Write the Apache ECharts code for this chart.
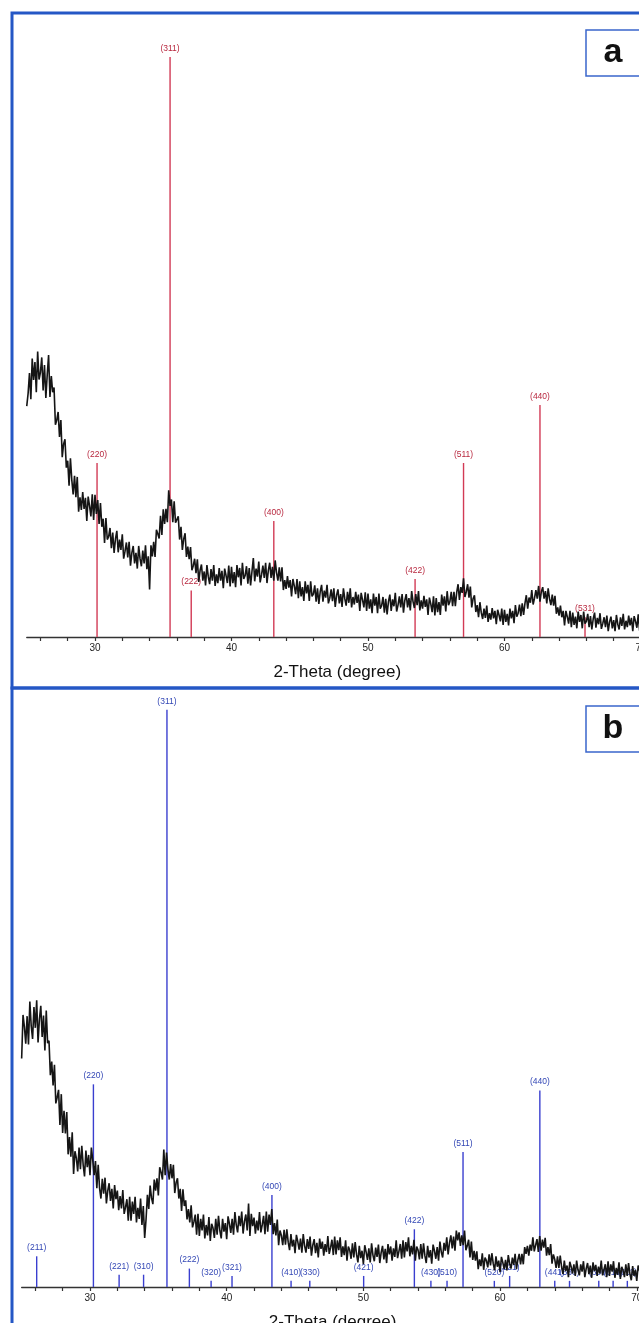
<!DOCTYPE html>
<html>
<head>
<meta charset="utf-8">
<script src="https://cdn.jsdelivr.net/npm/echarts@6/dist/echarts.min.js"></script>
<style>
  html, body { margin: 0; padding: 0; background: #fff; overflow: hidden; }
  #chart { width: 660px; height: 1340px; }
</style>
</head>
<body>
<div id="chart"></div>
<script>
// 2-theta sampling of the measured patterns
const thetaStart = 25.0;
const thetaStep = 0.1;

// panel a: measured intensity (a.u.), one value per 0.1 deg from 25.0
const countsA = [
  39.8, 42.0, 45.5, 41.0, 48.0, 44.3, 47.4, 42.2, 49.2, 44.4,
  45.6, 48.2, 42.5, 46.9, 41.2, 45.2, 48.6, 41.4, 45.0, 42.2,
  43.0, 36.6, 37.4, 38.8, 34.5, 37.4, 31.0, 33.3, 34.1, 29.2,
  30.4, 26.1, 30.8, 27.1, 24.6, 27.8, 24.1, 27.6, 21.6, 24.1,
  21.9, 25.0, 22.1, 24.0, 20.0, 24.2, 22.6, 20.8, 24.6, 20.2,
  24.5, 21.2, 23.6, 19.5, 23.1, 19.0, 20.4, 16.2, 20.5, 16.8,
  17.3, 18.8, 15.3, 18.0, 14.5, 16.9, 18.3, 14.6, 16.8, 15.0,
  17.7, 13.5, 14.8, 16.3, 13.7, 16.4, 12.3, 14.5, 15.7, 12.7,
  14.5, 11.8, 15.7, 13.5, 12.2, 14.9, 12.7, 15.8, 11.7, 13.9,
  8.2, 15.8, 13.9, 16.4, 13.8, 18.5, 17.8, 17.0, 20.9, 17.6,
  22.0, 19.5, 22.1, 19.8, 25.3, 22.6, 23.7, 19.8, 23.4, 19.7,
  19.8, 20.8, 16.8, 19.0, 15.0, 16.9, 17.9, 13.8, 15.6, 13.4,
  15.5, 11.5, 12.3, 13.5, 11.0, 13.4, 9.5, 11.5, 12.5, 9.7,
  11.3, 8.9, 12.4, 10.4, 9.1, 11.7, 9.7, 12.4, 8.8, 10.8,
  9.3, 11.9, 9.7, 11.4, 8.4, 11.8, 10.6, 9.3, 12.3, 8.7,
  12.1, 9.3, 11.2, 8.6, 12.4, 10.3, 11.9, 8.9, 12.8, 10.0,
  10.6, 12.2, 9.2, 11.9, 8.9, 11.3, 13.6, 9.6, 11.8, 10.4,
  13.0, 9.4, 10.7, 12.3, 10.2, 12.8, 9.3, 11.5, 12.8, 10.2,
  12.1, 9.7, 13.2, 11.1, 9.7, 12.0, 9.6, 12.0, 8.1, 9.8,
  8.3, 10.5, 8.5, 9.8, 7.0, 10.0, 8.8, 7.4, 10.0, 6.7,
  9.6, 7.0, 8.6, 6.2, 9.6, 7.5, 9.0, 6.2, 9.6, 7.0,
  7.4, 8.9, 6.1, 8.4, 5.7, 7.8, 9.0, 6.1, 8.0, 6.8,
  9.0, 5.8, 6.7, 8.2, 6.2, 8.4, 5.2, 7.2, 8.2, 5.8,
  7.4, 5.2, 8.4, 6.6, 5.4, 7.8, 5.9, 8.4, 5.1, 6.9,
  5.6, 7.8, 5.9, 7.3, 4.5, 7.6, 6.4, 5.1, 7.7, 4.5,
  7.5, 4.9, 6.5, 4.1, 7.5, 5.4, 6.9, 4.1, 7.5, 4.9,
  5.4, 6.9, 4.2, 6.6, 3.9, 6.1, 7.3, 4.5, 6.5, 5.3,
  7.6, 4.4, 5.5, 7.0, 5.1, 7.4, 4.2, 6.3, 7.4, 5.1,
  6.7, 4.6, 7.9, 6.1, 5.0, 7.4, 5.5, 7.9, 4.6, 6.3,
  4.9, 7.1, 5.2, 6.5, 3.8, 6.8, 5.7, 4.3, 7.0, 3.7,
  6.7, 4.3, 6.0, 3.8, 7.3, 5.4, 7.0, 4.4, 7.9, 5.5,
  6.1, 7.8, 5.3, 7.8, 5.3, 7.7, 9.1, 6.4, 8.6, 7.6,
  10.1, 6.9, 7.8, 9.1, 6.8, 8.7, 5.1, 6.6, 7.2, 4.3,
  5.5, 3.4, 6.0, 4.2, 3.1, 4.9, 3.3, 5.4, 2.6, 4.1,
  3.0, 5.0, 3.2, 4.5, 2.2, 4.7, 3.8, 2.7, 4.9, 2.1,
  4.7, 2.6, 4.0, 2.0, 4.9, 3.2, 4.5, 2.4, 5.5, 3.5,
  4.1, 5.6, 3.6, 5.8, 3.8, 5.8, 7.2, 4.9, 6.8, 5.9,
  8.1, 5.6, 6.7, 8.1, 6.6, 8.8, 6.1, 7.8, 8.6, 6.6,
  7.9, 5.8, 8.4, 6.6, 5.5, 7.3, 5.4, 7.1, 4.0, 5.1,
  3.7, 5.4, 3.4, 4.5, 2.0, 4.5, 3.5, 2.3, 4.5, 1.7,
  4.2, 2.1, 3.5, 1.5, 4.4, 2.6, 3.8, 1.5, 4.4, 2.3,
  2.7, 4.0, 1.7, 3.6, 1.3, 3.1, 4.2, 1.6, 3.3, 2.2,
  4.1, 1.4, 2.3, 3.4, 1.7, 3.7, 1.0, 2.6, 3.5, 1.5,
  2.9, 1.0, 3.8, 2.2, 1.3, 3.4, 1.9, 4.0, 1.3, 2.8,
  1.7, 3.7, 2.0, 3.3, 1.0, 3.6, 2.7, 1.6, 3.9, 1.1,
  3.7, 1.6, 2.9, 0.9, 3.8, 2.1
];

// panel b: measured intensity (a.u.)
const countsB = [
  38.2, 45.3, 43.4, 40.6, 45.1, 40.5, 47.5, 43.5, 41.4, 46.6,
  43.2, 47.7, 40.8, 44.6, 46.8, 41.7, 45.2, 39.5, 46.0, 40.7,
  41.1, 35.5, 37.7, 33.8, 37.2, 30.9, 31.9, 33.1, 27.4, 32.4,
  26.1, 29.7, 26.0, 29.5, 22.6, 25.4, 22.2, 26.2, 19.4, 23.1,
  22.0, 19.8, 23.7, 20.2, 24.0, 20.9, 19.0, 23.2, 20.5, 22.5,
  19.2, 23.7, 21.7, 19.2, 21.5, 17.1, 20.9, 17.1, 15.4, 18.6,
  16.2, 18.8, 14.6, 16.7, 17.9, 15.0, 17.0, 13.8, 17.6, 15.3,
  16.7, 13.5, 15.8, 13.8, 16.8, 12.9, 14.0, 15.3, 11.8, 15.7,
  11.8, 14.9, 12.9, 15.7, 11.5, 13.9, 12.1, 15.4, 11.1, 14.2,
  9.0, 12.0, 16.0, 13.7, 17.5, 15.5, 14.5, 18.5, 16.7, 18.7,
  15.9, 20.5, 19.7, 18.5, 23.4, 19.2, 22.9, 20.2, 18.5, 21.0,
  18.7, 20.9, 16.3, 18.0, 18.7, 15.4, 17.0, 13.4, 16.9, 14.2,
  15.1, 12.0, 13.7, 11.5, 14.3, 10.7, 11.6, 12.8, 9.5, 12.9,
  9.3, 12.1, 10.2, 12.8, 8.9, 11.1, 9.4, 12.4, 8.5, 11.3,
  10.6, 9.0, 12.1, 9.5, 12.6, 10.2, 8.9, 12.1, 10.0, 11.4,
  8.8, 12.5, 11.3, 9.8, 12.1, 9.5, 13.2, 11.1, 9.9, 12.6,
  10.9, 13.3, 9.7, 11.7, 12.8, 10.2, 14.6, 9.3, 12.9, 10.9,
  12.3, 9.7, 11.8, 10.2, 13.2, 9.9, 11.1, 12.6, 9.6, 13.3,
  10.0, 12.8, 11.1, 13.7, 9.6, 11.4, 9.4, 12.0, 7.8, 10.2,
  9.4, 7.8, 10.3, 7.9, 10.4, 8.3, 7.0, 9.6, 7.6, 8.7,
  6.5, 9.5, 8.4, 7.1, 8.9, 6.6, 9.6, 7.7, 6.6, 8.8,
  7.2, 9.2, 6.1, 7.8, 8.8, 6.5, 8.2, 5.8, 8.9, 7.2,
  8.4, 6.1, 8.0, 6.7, 9.3, 6.4, 7.4, 8.7, 6.2, 9.2,
  6.3, 8.6, 7.0, 9.1, 5.9, 7.6, 6.2, 8.6, 5.3, 7.6,
  7.0, 5.6, 8.1, 5.8, 8.3, 6.3, 5.0, 7.7, 5.7, 6.9,
  4.7, 7.8, 6.7, 5.4, 7.3, 5.0, 8.1, 6.2, 5.2, 7.4,
  5.9, 7.9, 4.9, 6.6, 7.7, 5.5, 7.2, 4.9, 8.0, 6.3,
  7.6, 5.3, 7.3, 5.9, 8.6, 5.7, 6.8, 8.0, 5.6, 8.6,
  5.8, 8.3, 6.8, 9.1, 6.0, 7.7, 6.3, 8.7, 5.3, 7.6,
  7.0, 5.5, 8.0, 5.6, 8.1, 6.1, 4.9, 7.7, 5.8, 7.0,
  4.8, 7.9, 6.9, 5.6, 7.5, 5.3, 8.4, 6.7, 5.8, 8.2,
  6.9, 9.1, 6.3, 8.2, 9.4, 7.3, 9.2, 6.9, 10.2, 8.6,
  9.9, 7.7, 9.4, 7.8, 10.2, 7.0, 7.7, 8.7, 5.8, 8.4,
  5.4, 6.9, 5.3, 6.8, 3.9, 5.5, 4.4, 6.5, 3.8, 5.8,
  5.3, 4.2, 6.3, 4.5, 6.5, 4.8, 3.7, 6.0, 4.3, 5.3,
  3.4, 5.9, 5.0, 3.9, 5.4, 3.7, 6.2, 4.8, 4.0, 5.8,
  4.6, 6.4, 3.9, 5.4, 6.4, 4.7, 6.4, 4.7, 7.5, 6.4,
  7.7, 6.1, 7.9, 6.9, 9.1, 6.8, 7.8, 8.8, 6.7, 9.3,
  6.9, 8.7, 7.4, 9.0, 6.1, 7.5, 6.2, 8.0, 4.8, 6.3,
  5.5, 4.1, 6.0, 4.1, 6.1, 4.3, 3.1, 5.3, 3.6, 4.5,
  2.6, 5.1, 4.3, 3.2, 4.7, 2.8, 5.3, 3.8, 2.9, 4.7,
  3.5, 5.2, 2.6, 4.0, 4.9, 3.1, 4.5, 2.5, 5.0, 3.6,
  4.6, 2.8, 4.3, 3.2, 5.3, 2.9, 3.8, 4.7, 2.6, 5.2,
  2.8, 4.7, 3.5, 5.2, 2.5, 4.1, 3.0, 5.0, 2.3, 4.3,
  3.7, 2.6, 4.7, 2.8, 4.9, 3.1, 2.1, 4.4, 2.8, 3.8,
  2.0, 4.5, 3.7, 2.6, 4.1, 2.3
];

// reference pattern a (red sticks)
const peaksA = [30.15, 35.5, 37.05, 43.1, 53.45, 57.0, 62.6, 65.9];
const hklA = ['(220)', '(311)', '(222)', '(400)', '(422)', '(511)', '(440)', '(531)'];
const intensA = [30, 100, 8, 20, 10, 30, 40, 3.4];

// reference pattern b (blue sticks)
const peaksB = [26.1, 30.25, 32.13, 33.92, 35.63, 37.27, 38.86, 40.39, 43.31, 44.71, 46.08, 50.02,
  53.73, 54.94, 56.12, 57.29, 59.58, 60.7, 62.91, 64.0, 65.08, 67.22, 68.27, 69.31];
const hklB = ['(211)', '(220)', '(221)', '(310)', '(311)', '(222)', '(320)', '(321)', '(400)', '(410)', '(330)', '(421)',
  '(422)', '(430)', '(510)', '(511)', '(520)', '(521)', '(440)', '(441)', '(530)', '(600)', '(610)', '(611)'];
const intensB = [6, 34, 3, 3, 95, 4, 2, 2.8, 16, 2, 2, 2.8,
  10.4, 2, 2, 23, 2, 2.8, 33, 2, 2, 2, 2, 2];

const majorTicks = [30, 40, 50, 60, 70];
const minorTicks = [26, 28, 30, 32, 34, 36, 38, 40, 42, 44, 46, 48, 50, 52, 54, 56, 58, 60, 62, 64, 66, 68, 70];

const yMinA = 0, yMinB = 1;

function toSeries(counts) {
  return counts.map((v, i) => [+(thetaStart + i * thetaStep).toFixed(2), v]);
}
function toSticks(pos, inten) {
  return pos.map((p, i) => [p, inten[i]]);
}

function stickRenderer(yMin, labels, lineColor, textColor) {
  return function (params, api) {
    const top = api.coord([api.value(0), api.value(1)]);
    const base = api.coord([api.value(0), yMin]);
    return {
      type: 'group',
      children: [
        {
          type: 'line',
          shape: { x1: top[0], y1: top[1], x2: base[0], y2: base[1] },
          style: { stroke: lineColor, lineWidth: 1.4 }
        },
        {
          type: 'text',
          style: {
            text: labels[params.dataIndex],
            x: top[0], y: top[1] - 4,
            align: 'center', verticalAlign: 'bottom',
            fill: textColor,
            font: '8.5px "Liberation Sans", Arial, sans-serif'
          }
        }
      ]
    };
  };
}

function xAxisFor(gridIndex) {
  return {
    type: 'value',
    gridIndex: gridIndex,
    min: 25,
    max: 70.5,
    name: '2-Theta (degree)',
    nameLocation: 'middle',
    nameGap: 27,
    nameTextStyle: { fontSize: 17, color: '#111', fontFamily: '"Liberation Sans", Arial, sans-serif' },
    axisLine: { lineStyle: { color: '#333', width: 1.3 } },
    axisTick: { customValues: minorTicks, length: 4, inside: false, lineStyle: { color: '#333', width: 1.2 } },
    axisLabel: { customValues: majorTicks, fontSize: 10, color: '#222', margin: 6, fontFamily: '"Liberation Sans", Arial, sans-serif' },
    splitLine: { show: false }
  };
}

const chart = echarts.init(document.getElementById('chart'), null, { renderer: 'canvas' });

const option = {
  animation: false,
  backgroundColor: '#fff',
  grid: [
    { left: 26.75, right: 12.2, top: 57, height: 580 },
    { left: 21.65, right: 16.4, top: 679, height: 608 }
  ],
  xAxis: [xAxisFor(0), xAxisFor(1)],
  yAxis: [
    { type: 'value', gridIndex: 0, min: yMinA, max: 100, show: false },
    { type: 'value', gridIndex: 1, min: yMinB, max: 100, show: false }
  ],
  graphic: [
    { type: 'rect', shape: { x: 12, y: 13, width: 700, height: 675 }, style: { fill: 'none', stroke: '#2457c5', lineWidth: 3 }, z: 100 },
    { type: 'rect', shape: { x: 12, y: 688, width: 700, height: 700 }, style: { fill: 'none', stroke: '#2457c5', lineWidth: 3 }, z: 100 },
    { type: 'rect', shape: { x: 586, y: 30, width: 80, height: 46 }, style: { fill: '#fff', stroke: '#3a66cc', lineWidth: 1.5 }, z: 100 },
    { type: 'text', x: 613, y: 53, style: { text: 'a', font: 'bold 34px "Liberation Sans", Arial, sans-serif', fill: '#111', align: 'center', verticalAlign: 'middle' }, z: 101 },
    { type: 'rect', shape: { x: 586, y: 706, width: 80, height: 46 }, style: { fill: '#fff', stroke: '#3a66cc', lineWidth: 1.5 }, z: 100 },
    { type: 'text', x: 613, y: 729, style: { text: 'b', font: 'bold 34px "Liberation Sans", Arial, sans-serif', fill: '#111', align: 'center', verticalAlign: 'middle' }, z: 101 }
  ],
  series: [
    {
      type: 'custom',
      xAxisIndex: 0, yAxisIndex: 0,
      renderItem: stickRenderer(yMinA, hklA, '#d23a55', '#b8283f'),
      data: toSticks(peaksA, intensA),
      z: 2
    },
    {
      type: 'line',
      xAxisIndex: 0, yAxisIndex: 0,
      data: toSeries(countsA),
      showSymbol: false,
      lineStyle: { color: '#151515', width: 1.6 },
      z: 3
    },
    {
      type: 'custom',
      xAxisIndex: 1, yAxisIndex: 1,
      renderItem: stickRenderer(yMinB, hklB, '#3a3fcf', '#3347b5'),
      data: toSticks(peaksB, intensB),
      z: 2
    },
    {
      type: 'line',
      xAxisIndex: 1, yAxisIndex: 1,
      data: toSeries(countsB),
      showSymbol: false,
      lineStyle: { color: '#151515', width: 1.6 },
      z: 3
    }
  ]
};

chart.setOption(option);
</script>
</body>
</html>
